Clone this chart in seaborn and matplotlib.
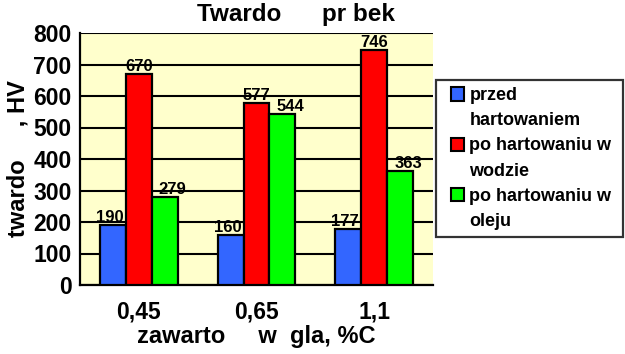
import matplotlib
matplotlib.use("Agg")
import matplotlib.pyplot as plt
from matplotlib.patches import Rectangle
from matplotlib.legend_handler import HandlerPatch
import seaborn as sns
import pandas as pd
import numpy as np

categories = ["0,45", "0,65", "1,1"]
series = ["przed hartowaniem", "po hartowaniu w wodzie", "po hartowaniu w oleju"]
legend_lines = [["przed", "hartowaniem"], ["po hartowaniu w", "wodzie"], ["po hartowaniu w", "oleju"]]
przed = [190, 160, 177]
woda = [670, 577, 746]
olej = [279, 544, 363]
colors = ["#3366FF", "#FF0000", "#00FF00"]

rows = []
for s, vals in zip(series, [przed, woda, olej]):
    for c, v in zip(categories, vals):
        rows.append({"cat": c, "series": s, "val": v})
df = pd.DataFrame(rows)

sns.set_style("white")
plt.rcParams['font.family'] = ['Liberation Sans', 'DejaVu Sans']
plt.rcParams['font.weight'] = 'bold'
for k in ["text.color", "axes.labelcolor", "xtick.color", "ytick.color"]:
    plt.rcParams[k] = "black"

fig = plt.figure(figsize=(6.25, 3.54), dpi=100)
ax = fig.add_axes([80 / 625, 1 - 285 / 354, 353 / 625, 252 / 354])
ax.set_facecolor("#FFFFCC")

sns.barplot(data=df, x="cat", y="val", hue="series", palette=colors,
            order=categories, hue_order=series, width=0.66, saturation=1,
            edgecolor="black", linewidth=1.6, ax=ax, zorder=3, legend=False)

ax.set_ylim(0, 800)
ax.set_xlim(-0.5, 2.5)
ax.set_yticks(np.arange(0, 801, 100))
ax.yaxis.grid(True, color="black", linewidth=1.5, zorder=0)
ax.set_axisbelow(True)
for sp in ["top", "right"]:
    ax.spines[sp].set_visible(False)
for sp in ["left", "bottom"]:
    ax.spines[sp].set_color("black")
    ax.spines[sp].set_linewidth(1.6)

ax.set_xticks([0, 1, 2])
ax.set_xticklabels(categories, fontsize=16.5, fontweight="bold")
ax.set_xticks([-0.5, 0.5, 1.5, 2.5], minor=True)
ax.tick_params(axis="x", which="major", length=0, pad=11)
ax.tick_params(axis="x", which="minor", length=5, width=1.6, color="black", direction="out")
ax.tick_params(axis="y", length=5, width=1.6, color="black", direction="out", labelsize=16.5, pad=1)
for t in ax.get_yticklabels():
    t.set_fontweight("bold")

offsets_px = [-3, 0, 8]
for cont, dx in zip(ax.containers, offsets_px):
    for bar in cont:
        h = bar.get_height()
        ax.annotate(f"{int(h)}", (bar.get_x() + bar.get_width() / 2, h),
                    xytext=(dx * 0.72, 2), textcoords="offset points",
                    ha="center", va="baseline", fontsize=12, fontweight="bold", zorder=5)

ax.set_xlabel("zawarto     w  gla, %C", fontsize=17, fontweight="bold", labelpad=1)
ax.set_ylabel("twardo     , HV", fontsize=17, fontweight="bold", labelpad=3)
ax.set_title("Twardo      pr bek", fontsize=17.5, fontweight="bold", pad=9, x=0.612)


def square_patch(legend, orig_handle, xdescent, ydescent, width, height, fontsize):
    side = height
    return Rectangle((-xdescent + width - side, -ydescent), side, side)


handles, labels = [], []
for col, lines in zip(colors, legend_lines):
    handles.append(Rectangle((0, 0), 1, 1, facecolor=col, edgecolor="black", linewidth=1.5))
    labels.append(lines[0])
    handles.append(Rectangle((0, 0), 1, 1, facecolor="none", edgecolor="none", linewidth=0))
    labels.append(lines[1])

leg = fig.legend(handles, labels, loc="upper left",
                 bbox_to_anchor=(436 / 625, 1 - 80 / 354, 187 / 625, 0.0),
                 mode="expand", frameon=True, fancybox=False, edgecolor="black",
                 fontsize=13, handlelength=1.15, handleheight=0.75, handletextpad=0.3,
                 borderpad=0.4, labelspacing=0.45, borderaxespad=0,
                 handler_map={Rectangle: HandlerPatch(patch_func=square_patch)})
leg.get_frame().set_linewidth(1.6)
for t in leg.get_texts():
    t.set_fontweight("bold")

fig.savefig("out.png", dpi=100)
